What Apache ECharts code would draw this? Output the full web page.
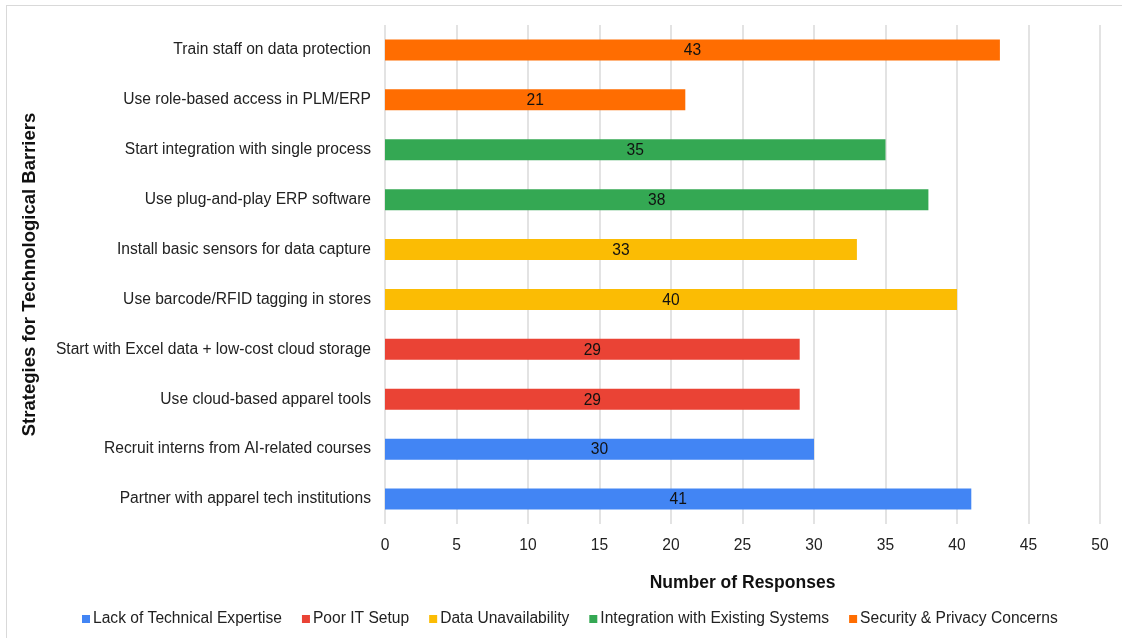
<!DOCTYPE html>
<html>
<head>
<meta charset="utf-8">
<script src="https://cdn.jsdelivr.net/npm/echarts@6/dist/echarts.min.js"></script>
<style>
  html, body { margin: 0; padding: 0; background: #fff; }
  #frame { position: absolute; left: 6px; top: 5px; width: 1116px; height: 633px;
           border-left: 1px solid #d9d9d9; border-top: 1px solid #d9d9d9; box-sizing: border-box; }
  #chart { width: 1122px; height: 638px; }
</style>
</head>
<body>
<div id="frame"></div>
<div id="chart"></div>
<script>
// Strategies, listed top to bottom
const strategies = [
  'Train staff on data protection',
  'Use role-based access in PLM/ERP',
  'Start integration with single process',
  'Use plug-and-play ERP software',
  'Install basic sensors for data capture',
  'Use barcode/RFID tagging in stores',
  'Start with Excel data + low-cost cloud storage',
  'Use cloud-based apparel tools',
  'Recruit interns from AI-related courses',
  'Partner with apparel tech institutions'
];
// Barrier each strategy addresses
const barriers = [
  'Lack of Technical Expertise',
  'Poor IT Setup',
  'Data Unavailability',
  'Integration with Existing Systems',
  'Security & Privacy Concerns'
];
const barrierColors = ['#4285F4', '#EA4335', '#FBBC04', '#34A853', '#FF6D01'];
// Number of responses per strategy (same order as strategies)
const responses = [43, 21, 35, 38, 33, 40, 29, 29, 30, 41];
// Barrier index per strategy
const strategyBarrier = [4, 4, 3, 3, 2, 2, 1, 1, 0, 0];
const xTicks = { min: 0, max: 50, interval: 5 };

const FONT = 'Liberation Sans, Arial, sans-serif';
const TEXT_SIZE = 15.6;

const series = barriers.map((b, bi) => ({
  name: b,
  type: 'bar',
  stack: 'all',
  barWidth: 21,
  itemStyle: { color: barrierColors[bi] },
  label: {
    show: true,
    position: 'inside',
    offset: [0, 1],
    color: '#111',
    fontSize: TEXT_SIZE,
    fontFamily: FONT
  },
  data: responses.map((v, i) => strategyBarrier[i] === bi ? v : '-')
}));

const chart = echarts.init(document.getElementById('chart'), null, { renderer: 'canvas' });
chart.setOption({
  animation: false,
  textStyle: { fontFamily: FONT },
  grid: { left: 385, right: 22, top: 25, bottom: 114 },
  legend: {
    top: 606,
    left: 77,
    itemWidth: 8,
    itemHeight: 8,
    itemGap: 20,
    icon: 'rect',
    textStyle: { fontSize: TEXT_SIZE, color: '#222', padding: [0, 0, 0, -2] },
    data: barriers
  },
  xAxis: {
    type: 'value',
    min: xTicks.min,
    max: xTicks.max,
    interval: xTicks.interval,
    name: 'Number of Responses',
    nameLocation: 'middle',
    nameGap: 50,
    nameTextStyle: { fontSize: 17.5, fontWeight: 'bold', color: '#111' },
    axisLine: { show: false },
    axisTick: { show: false },
    axisLabel: { fontSize: TEXT_SIZE, color: '#222', margin: 14 },
    splitLine: { lineStyle: { color: '#dadada', width: 1.5 } }
  },
  yAxis: {
    type: 'category',
    inverse: true,
    data: strategies,
    name: 'Strategies for Technological Barriers',
    nameLocation: 'middle',
    nameGap: 346,
    nameTextStyle: { fontSize: 18.5, fontWeight: 'bold', color: '#111' },
    axisLine: { show: false },
    axisTick: { show: false },
    axisLabel: { fontSize: TEXT_SIZE, color: '#222', margin: 14 }
  },
  series: series
});
</script>
</body>
</html>
